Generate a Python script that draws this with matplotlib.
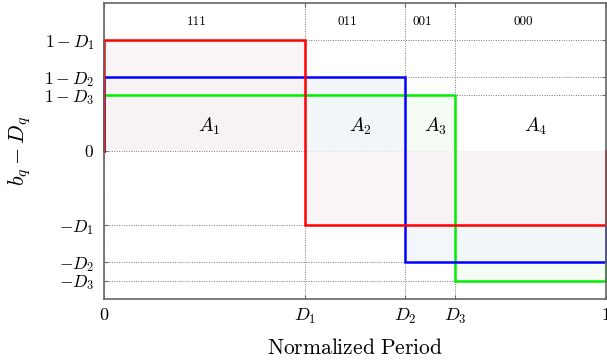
import matplotlib
matplotlib.use("Agg")
import matplotlib.pyplot as plt

plt.rcParams["mathtext.fontset"] = "cm"
plt.rcParams["font.family"] = ["cmr10", "DejaVu Serif"]
plt.rcParams["axes.unicode_minus"] = False

# ---- data -----------------------------------------------------------------
D = [0.4, 0.6, 0.7]                      # D1, D2, D3
series_colors = ["#ff0000", "#0000ff", "#00ee00"]
fill_colors = ["#f9f3f4", "#f1f5fb", "#f2fcf2"]
codes = ["111", "011", "001", "000"]
code_x = [0.185, 0.485, 0.635, 0.835]
areas = [r"$A_1$", r"$A_2$", r"$A_3$", r"$A_4$"]
area_x = [0.21, 0.51, 0.66, 0.86]

xticks = [0, D[0], D[1], D[2], 1]
xticklabels = [r"$0$", r"$D_1$", r"$D_2$", r"$D_3$", r"$1$"]
yticks = [1 - D[0], 1 - D[1], 1 - D[2], 0, -D[0], -D[1], -D[2]]
yticklabels = [r"$1-D_1$", r"$1-D_2$", r"$1-D_3$", r"$0$",
               r"$-D_1$", r"$-D_2$", r"$-D_3$"]

# ---- figure ---------------------------------------------------------------
fig = plt.figure(figsize=(6.07, 3.62), dpi=100)
ax = fig.add_axes([104 / 607, 1 - 299 / 362, 502 / 607, 296 / 362])

ax.set_xlim(0, 1)
ax.set_ylim(-0.8, 0.8)
ax.set_xticks(xticks)
ax.set_xticklabels(xticklabels, fontsize=13)
ax.set_yticks(yticks)
ax.set_yticklabels(yticklabels, fontsize=12.5)
ax.grid(True, ls=(0, (1, 1.5)), color="#777777", lw=0.7)
ax.set_axisbelow(True)

# shaded areas under each step, green first so red ends up on top
for d, fc in reversed(list(zip(D, fill_colors))):
    ax.fill_between([0, d], 0, 1 - d, color=fc, alpha=0.8, lw=0)
    ax.fill_between([d, 1], -d, 0, color=fc, alpha=0.8, lw=0)
# step functions b_q - D_q
for d, c in reversed(list(zip(D, series_colors))):
    xs = [0, 0, d, d, 1, 1]
    ys = [0, 1 - d, 1 - d, -d, -d, 0]
    ax.plot(xs, ys, color=c, lw=1.8, clip_on=False, solid_joinstyle="miter")

for x, s in zip(code_x, codes):
    ax.text(x, 0.7, s, fontsize=9.5, ha="center", va="center")
for x, s in zip(area_x, areas):
    ax.text(x, 0.135, s, fontsize=14, ha="center", va="center")

ax.set_xlabel(r"$\mathrm{Normalized\ Period}$", fontsize=15.5, labelpad=8)
ax.set_ylabel(r"$b_q - D_q$", fontsize=16, labelpad=8)

for s in ax.spines.values():
    s.set_color("#666666")
    s.set_linewidth(1.2)
ax.tick_params(direction="in", length=3, color="#666666", width=0.8,
               top=True, right=True)
ax.tick_params(axis="x", pad=6)
ax.tick_params(axis="y", pad=7)

fig.savefig("out.png", dpi=100)
